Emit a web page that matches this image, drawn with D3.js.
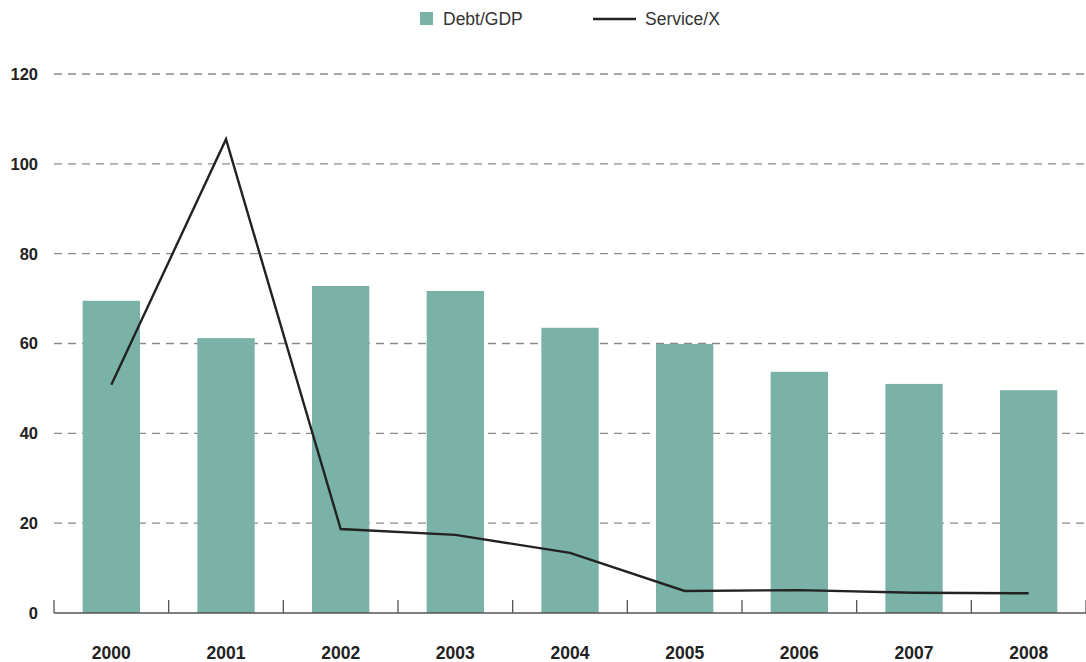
<!DOCTYPE html>
<html><head><meta charset="utf-8">
<script src="https://cdn.jsdelivr.net/npm/d3@7"></script>
<style>body{margin:0;background:#fff}svg{display:block}</style>
</head><body><svg id="c" width="1086" height="662"></svg>
<script>
const years = ["2000","2001","2002","2003","2004","2005","2006","2007","2008"];
const debtGDP = [69.5, 61.2, 72.8, 71.7, 63.5, 59.9, 53.7, 51.0, 49.6];
const serviceX = [50.8, 105.5, 18.7, 17.4, 13.4, 4.9, 5.1, 4.5, 4.4];
const yTicks = [0, 20, 40, 60, 80, 100, 120];

const svg = d3.select("#c");
const font = "'Liberation Sans', Arial, Helvetica, sans-serif";
const x = d3.scaleBand().domain(years).range([54, 1086]).paddingInner(0.5).paddingOuter(0.25);
const y = d3.scaleLinear().domain([0, 120]).range([613, 74]);

// gridlines
svg.append("g").selectAll("line").data(yTicks.filter(d => d > 0)).join("line")
  .attr("x1", 54).attr("x2", 1086)
  .attr("y1", d => y(d)).attr("y2", d => y(d))
  .attr("stroke", "#8a8a8a").attr("stroke-width", 1.3).attr("stroke-dasharray", "8,6");

// y labels
svg.append("g").selectAll("text").data(yTicks).join("text")
  .attr("x", 38).attr("y", d => y(d)).attr("dy", "0.36em")
  .attr("text-anchor", "end").attr("font-family", font).attr("font-weight", "bold")
  .attr("font-size", 16.5).attr("fill", "#222").text(d => d);

// bars
svg.append("g").selectAll("rect").data(debtGDP).join("rect")
  .attr("x", (d, i) => x(years[i])).attr("width", x.bandwidth())
  .attr("y", d => y(d)).attr("height", d => y(0) - y(d))
  .attr("fill", "#7ab2a8");

// x axis line and ticks
const bounds = d3.range(years.length + 1).map(i => 54 + i * (1086 - 54) / years.length);
svg.append("line").attr("x1", 54).attr("x2", 1086).attr("y1", y(0)).attr("y2", y(0))
  .attr("stroke", "#555").attr("stroke-width", 1.5);
svg.append("g").selectAll("line").data(bounds).join("line")
  .attr("x1", d => d).attr("x2", d => d).attr("y1", y(0) - 13).attr("y2", y(0))
  .attr("stroke", "#555").attr("stroke-width", 1.3);

// x labels
svg.append("g").selectAll("text").data(years).join("text")
  .attr("x", d => x(d) + x.bandwidth() / 2).attr("y", 653).attr("dy", "0.36em")
  .attr("text-anchor", "middle").attr("font-family", font).attr("font-weight", "bold")
  .attr("font-size", 17.5).attr("fill", "#222").text(d => d);

// line
const line = d3.line().x((d, i) => x(years[i]) + x.bandwidth() / 2).y(d => y(d));
svg.append("path").datum(serviceX).attr("d", line)
  .attr("fill", "none").attr("stroke", "#222").attr("stroke-width", 2.4);

// legend
svg.append("rect").attr("x", 420).attr("y", 12).attr("width", 13).attr("height", 13).attr("fill", "#7ab2a8");
svg.append("text").attr("x", 443).attr("y", 19).attr("dy", "0.36em").attr("font-family", font)
  .attr("font-size", 17.5).attr("fill", "#333").text("Debt/GDP");
svg.append("line").attr("x1", 593).attr("x2", 636).attr("y1", 19).attr("y2", 19)
  .attr("stroke", "#222").attr("stroke-width", 2.4);
svg.append("text").attr("x", 645).attr("y", 19).attr("dy", "0.36em").attr("font-family", font)
  .attr("font-size", 17.5).attr("fill", "#333").text("Service/X");
</script></body></html>
